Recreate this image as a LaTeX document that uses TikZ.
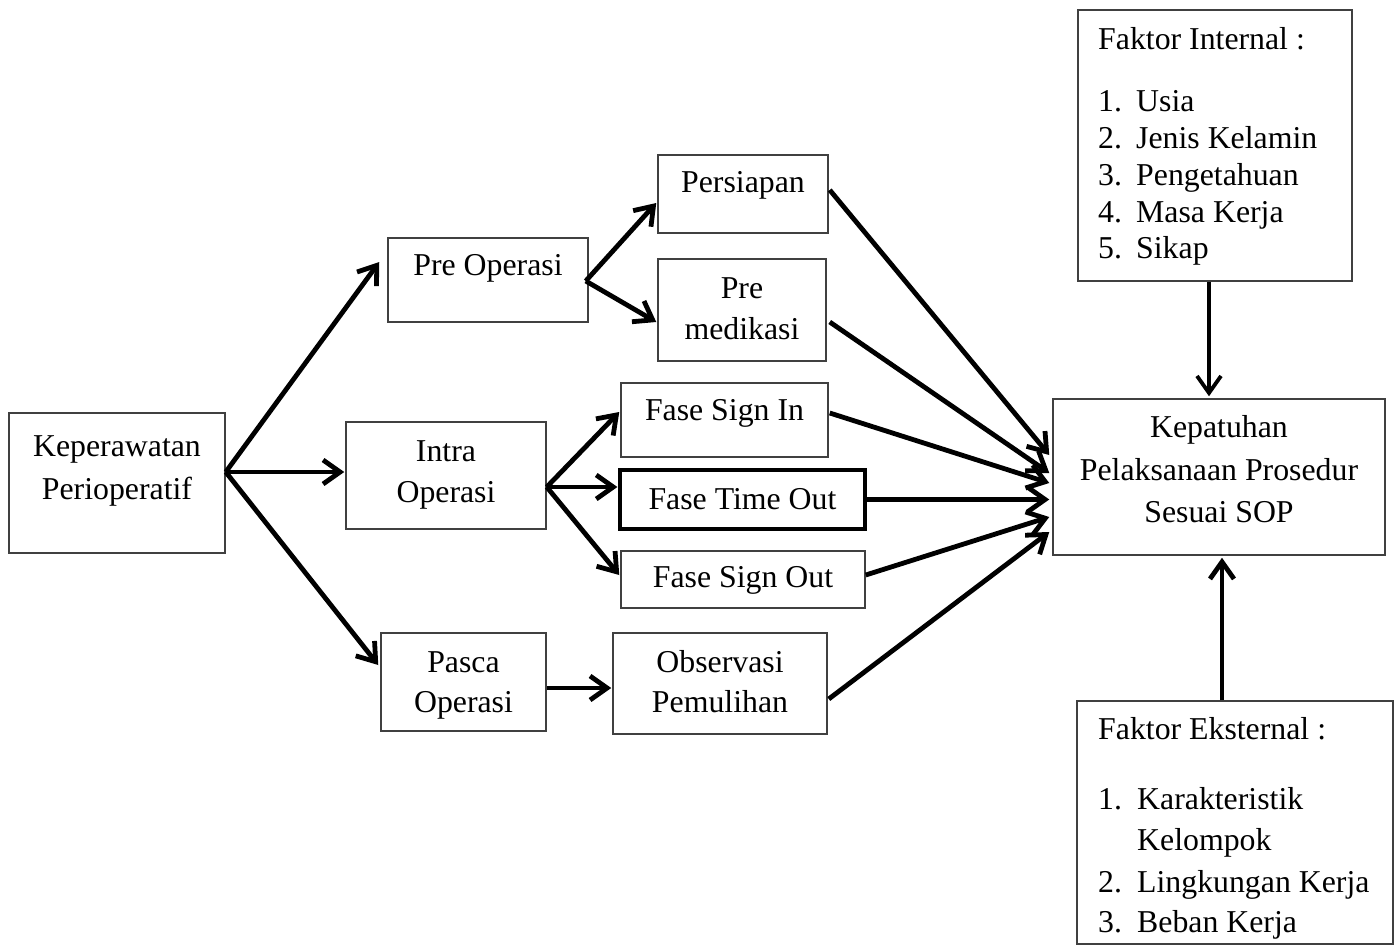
\documentclass[tikz,border=0pt]{standalone}
\usepackage{fontspec}
\setmainfont{Liberation Serif}
\usetikzlibrary{arrows.meta,calc}
\tikzset{
  box/.style={draw=black!75, line width=1.5pt, inner sep=0pt, rectangle},
  boldbox/.style={draw=black, line width=3.2pt, inner sep=0pt, rectangle},
  txt/.style={inner sep=0pt, anchor=base, font=\fontsize{31.8pt}{38pt}\selectfont},
  ltxt/.style={txt, anchor=base west},
  arr/.style={line width=4.8pt, -{Straight Barb[length=17pt,width=24pt]}},
}
\begin{document}
\begin{tikzpicture}[x=1pt,y=-1pt]
\useasboundingbox (0,0) rectangle (1395,947);
% boxes
\node[box, minimum width=216pt, minimum height=140pt] (kep) at (117,483) {};
\node[box, minimum width=200pt, minimum height=84pt] (pre) at (488,280) {};
\node[box, minimum width=200pt, minimum height=107pt] (intra) at (446,475.5) {};
\node[box, minimum width=165pt, minimum height=98pt] (pasca) at (463.5,682) {};
\node[box, minimum width=170pt, minimum height=78pt] (pers) at (743,194) {};
\node[box, minimum width=168pt, minimum height=102pt] (premed) at (742,310) {};
\node[box, minimum width=207pt, minimum height=74pt] (signin) at (724.5,420) {};
\node[boldbox, minimum width=245pt, minimum height=59pt] (timeout) at (742.5,499.5) {};
\node[box, minimum width=244pt, minimum height=57pt] (signout) at (743,579.5) {};
\node[box, minimum width=214pt, minimum height=101pt] (obs) at (720,683.5) {};
\node[box, minimum width=332pt, minimum height=156pt] (kepat) at (1219,477) {};
\node[box, minimum width=274pt, minimum height=271pt] (fint) at (1215,145.5) {};
\node[box, minimum width=316pt, minimum height=243pt] (feks) at (1235,822.5) {};
% texts
\node[txt] (kepT1) at (117,456) {Keperawatan};
\node[txt] (kepT2) at (117,499) {Perioperatif};
\node[txt] (preT) at (488,275) {Pre Operasi};
\node[txt] (intraT1) at (446,461) {Intra};
\node[txt] (intraT2) at (446,502) {Operasi};
\node[txt] (pascaT1) at (463.5,672) {Pasca};
\node[txt] (pascaT2) at (463.5,712) {Operasi};
\node[txt] (persT) at (743,193) {Persiapan};
\node[txt] (premedT1) at (742,298) {Pre};
\node[txt] (premedT2) at (742,339) {medikasi};
\node[txt] (signinT) at (724.5,420) {Fase Sign In};
\node[txt] (timeoutT) at (742.5,509) {Fase Time Out};
\node[txt] (signoutT) at (743,587) {Fase Sign Out};
\node[txt] (obsT1) at (720,672) {Observasi};
\node[txt] (obsT2) at (720,712) {Pemulihan};
\node[txt] (kepatT1) at (1219,437) {Kepatuhan};
\node[txt] (kepatT2) at (1219,480) {Pelaksanaan Prosedur};
\node[txt] (kepatT3) at (1219,522) {Sesuai SOP};
\node[ltxt] (fintT) at (1098,50) {Faktor Internal :};
\node[ltxt] (fintN1) at (1098,112) {1.};
\node[ltxt] (fintI1) at (1136,112) {Usia};
\node[ltxt] (fintN2) at (1098,148.7) {2.};
\node[ltxt] (fintI2) at (1136,148.7) {Jenis Kelamin};
\node[ltxt] (fintN3) at (1098,185.4) {3.};
\node[ltxt] (fintI3) at (1136,185.4) {Pengetahuan};
\node[ltxt] (fintN4) at (1098,222) {4.};
\node[ltxt] (fintI4) at (1136,222) {Masa Kerja};
\node[ltxt] (fintN5) at (1098,258.7) {5.};
\node[ltxt] (fintI5) at (1136,258.7) {Sikap};
\node[ltxt] (feksT) at (1098,739) {Faktor Eksternal :};
\node[ltxt] (feksN1) at (1098,809) {1.};
\node[ltxt] (feksI1) at (1137,809) {Karakteristik};
\node[ltxt] (feksI1b) at (1137,850.5) {Kelompok};
\node[ltxt] (feksN2) at (1098,892) {2.};
\node[ltxt] (feksI2) at (1137,892) {Lingkungan Kerja};
\node[ltxt] (feksN3) at (1098,932) {3.};
\node[ltxt] (feksI3) at (1137,932) {Beban Kerja};
% connectors
\draw[arr] ($(kep.east)+(0,-11)$) -- ($(pre.west)+(-8,-18)$);
\draw[arr] ($(kep.east)+(0,-11)$) -- ($(intra.west)+(-1,-3.5)$);
\draw[arr] ($(kep.east)+(0,-11)$) -- ($(pasca.west)+(-2,-17)$);
\draw[arr] ($(pre.east)+(-3,1)$) -- ($(pers.west)+(-1,9)$);
\draw[arr] ($(pre.east)+(-3,1)$) -- ($(premed.west)+(-1,12)$);
\draw[arr] ($(intra.east)+(0,11.5)$) -- ($(signin.west)+(-1,-8)$);
\draw[arr] ($(intra.east)+(0,11.5)$) -- ($(timeout.west)+(-1,-12.5)$);
\draw[arr] ($(intra.east)+(0,11.5)$) -- ($(signout.west)+(-1,-4.5)$);
\draw[arr] ($(pasca.east)+(0,6)$) -- ($(obs.west)+(-1,4.5)$);
\draw[arr] ($(pers.east)+(1,-4)$) -- ($(kepat.west)+(-3,-22)$);
\draw[arr] ($(premed.east)+(3,12)$) -- ($(kepat.west)+(-3,-4)$);
\draw[arr] ($(signin.east)+(1,-7)$) -- ($(kepat.west)+(-3,6)$);
\draw[arr] (timeout.east) -- ($(kepat.west)+(-3,22.5)$);
\draw[arr] ($(signout.east)+(0,-4.5)$) -- ($(kepat.west)+(-3,40)$);
\draw[arr] ($(obs.east)+(1,15.5)$) -- ($(kepat.west)+(-3,55)$);
\draw[arr, line width=3.8pt] ($(fint.south)+(-6,0)$) -- ($(kepat.north)+(-10,-2)$);
\draw[arr] ($(feks.north)+(-13,0)$) -- ($(kepat.south)+(3,2)$);
\end{tikzpicture}
\end{document}
